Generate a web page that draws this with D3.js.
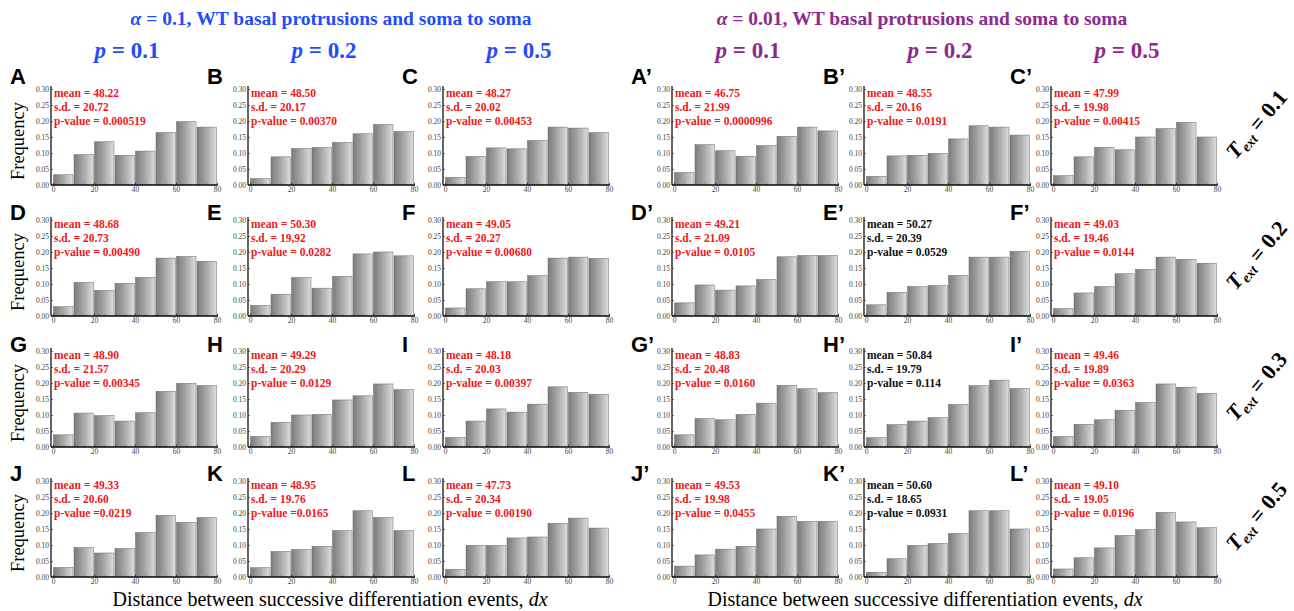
<!DOCTYPE html>
<html>
<head>
<meta charset="utf-8">
<script src="https://cdn.jsdelivr.net/npm/d3@7"></script>
<style>
  body { margin: 0; background: #fff; }
  svg { display: block; }
</style>
</head>
<body>
<svg id="chart"></svg>
<script>
// panels in row-major order (rows: T_ext, columns: p for alpha 0.1 then alpha 0.01)
const panelIds = [
  "A", "B", "C", "A’", "B’", "C’",
  "D", "E", "F", "D’", "E’", "F’",
  "G", "H", "I", "G’", "H’", "I’",
  "J", "K", "L", "J’", "K’", "L’"
];
const means = [
  "48.22", "48.50", "48.27", "46.75", "48.55", "47.99",
  "48.68", "50.30", "49.05", "49.21", "50.27", "49.03",
  "48.90", "49.29", "48.18", "48.83", "50.84", "49.46",
  "49.33", "48.95", "47.73", "49.53", "50.60", "49.10"
];
const sds = [
  "20.72", "20.17", "20.02", "21.99", "20.16", "19.98",
  "20.73", "19,92", "20.27", "21.09", "20.39", "19.46",
  "21.57", "20.29", "20.03", "20.48", "19.79", "19.89",
  "20.60", "19.76", "20.34", "19.98", "18.65", "19.05"
];
const pValues = [
  "= 0.000519", "= 0.00370", "= 0.00453", "= 0.0000996", "= 0.0191", "= 0.00415",
  "= 0.00490", "= 0.0282", "= 0.00680", "= 0.0105", "= 0.0529", "= 0.0144",
  "= 0.00345", "= 0.0129", "= 0.00397", "= 0.0160", "= 0.114", "= 0.0363",
  "=0.0219", "=0.0165", "= 0.00190", "= 0.0455", "= 0.0931", "= 0.0196"
];
const significant = [
  true, true, true, true, true, true,
  true, true, true, true, false, true,
  true, true, true, true, false, true,
  true, true, true, true, false, true
];
const binStarts = [0, 10, 20, 30, 40, 50, 60, 70];
const frequencies = [
  [0.032, 0.095, 0.135, 0.093, 0.106, 0.164, 0.198, 0.181],
  [0.020, 0.088, 0.114, 0.117, 0.133, 0.160, 0.189, 0.167],
  [0.024, 0.089, 0.116, 0.113, 0.139, 0.181, 0.178, 0.164],
  [0.039, 0.126, 0.107, 0.090, 0.123, 0.152, 0.181, 0.169],
  [0.027, 0.091, 0.093, 0.099, 0.144, 0.185, 0.181, 0.156],
  [0.029, 0.088, 0.118, 0.110, 0.150, 0.176, 0.196, 0.150],

  [0.029, 0.105, 0.080, 0.102, 0.121, 0.181, 0.186, 0.171],
  [0.033, 0.068, 0.120, 0.087, 0.124, 0.194, 0.200, 0.188],
  [0.025, 0.085, 0.107, 0.107, 0.126, 0.181, 0.184, 0.180],
  [0.041, 0.097, 0.081, 0.094, 0.114, 0.185, 0.189, 0.189],
  [0.035, 0.074, 0.092, 0.095, 0.127, 0.184, 0.184, 0.202],
  [0.023, 0.072, 0.092, 0.132, 0.146, 0.184, 0.177, 0.165],

  [0.038, 0.106, 0.098, 0.081, 0.107, 0.174, 0.199, 0.192],
  [0.033, 0.077, 0.100, 0.102, 0.147, 0.160, 0.197, 0.179],
  [0.030, 0.081, 0.119, 0.109, 0.134, 0.188, 0.171, 0.165],
  [0.038, 0.089, 0.085, 0.102, 0.137, 0.193, 0.182, 0.170],
  [0.029, 0.070, 0.081, 0.092, 0.133, 0.192, 0.209, 0.183],
  [0.033, 0.071, 0.085, 0.115, 0.139, 0.197, 0.187, 0.168],

  [0.030, 0.092, 0.075, 0.089, 0.139, 0.193, 0.171, 0.186],
  [0.029, 0.080, 0.086, 0.096, 0.145, 0.207, 0.186, 0.145],
  [0.024, 0.099, 0.099, 0.122, 0.125, 0.168, 0.184, 0.153],
  [0.034, 0.069, 0.087, 0.096, 0.150, 0.190, 0.174, 0.174],
  [0.015, 0.057, 0.099, 0.105, 0.136, 0.207, 0.207, 0.150],
  [0.025, 0.060, 0.091, 0.130, 0.148, 0.202, 0.172, 0.154]
];
const yTicks = [0, 0.05, 0.10, 0.15, 0.20, 0.25, 0.30];
const xTicks = [0, 20, 40, 60, 80];
const pLabels = ["0.1", "0.2", "0.5", "0.1", "0.2", "0.5"];
const tExtLabels = ["0.1", "0.2", "0.3", "0.5"];
const groupTitles = [
  { alpha: "0.1", color: "#1f4cff" },
  { alpha: "0.01", color: "#8c2a8c" }
];

const W = 1294, H = 611;
const svg = d3.select("#chart").attr("width", W).attr("height", H);

// layout
const colAxisX = [51, 248, 443, 672, 864, 1051];
const rowTop = [89, 220, 351, 481];
const plotW = 164, plotH = 96;
const serif = "'Liberation Serif', 'DejaVu Serif', serif";
const sans = "'Liberation Sans', Arial, sans-serif";

const defs = svg.append("defs");
const grad = defs.append("linearGradient").attr("id", "barGrad")
  .attr("x1", "0%").attr("x2", "100%").attr("y1", "0%").attr("y2", "0%");
[["0%", "#7c7c7c"], ["35%", "#9a9a9a"], ["70%", "#bdbdbd"], ["100%", "#dedede"]]
  .forEach(([o, c]) => grad.append("stop").attr("offset", o).attr("stop-color", c));

panelIds.forEach((id, i) => {
  const row = Math.floor(i / 6), col = i % 6;
  const ax = colAxisX[col], top = rowTop[row], bottom = top + plotH;

  const x = d3.scaleLinear().domain([0, 80]).range([ax + 2, ax + 2 + plotW]);
  const y = d3.scaleLinear().domain([0, 0.30]).range([bottom, top]);

  const g = svg.append("g");

  g.selectAll(".bar")
    .data(binStarts.map((b, k) => ({ b, v: frequencies[i][k] })))
    .enter()
    .append("rect")
    .attr("class", "bar")
    .attr("x", (d) => x(d.b) + 0.5)
    .attr("y", (d) => y(d.v))
    .attr("width", (d) => x(d.b + 10) - x(d.b) - 1)
    .attr("height", (d) => y(0) - y(d.v))
    .attr("fill", "url(#barGrad)")
    .attr("stroke", "#6a6a6a")
    .attr("stroke-width", 0.5);

  // y axis
  const yAxis = g.append("g")
    .attr("transform", `translate(${ax},0)`)
    .call(d3.axisLeft(y).tickValues(yTicks).tickFormat(d3.format(".2f"))
      .tickSizeInner(-2).tickSizeOuter(0).tickPadding(2));
  yAxis.select(".domain").attr("d", `M0,${bottom}V${top - 3}`);

  // x axis, minor then major
  g.append("g")
    .attr("transform", `translate(0,${bottom})`)
    .call(d3.axisBottom(x).tickValues(d3.range(0, 81, 5)).tickFormat("")
      .tickSizeInner(-1.5).tickSizeOuter(0))
    .select(".domain").remove();
  const xAxis = g.append("g")
    .attr("transform", `translate(0,${bottom})`)
    .call(d3.axisBottom(x).tickValues(xTicks).tickFormat(d3.format("d"))
      .tickSizeInner(-2.5).tickSizeOuter(0).tickPadding(2));
  xAxis.select(".domain").attr("d", `M${ax},0H${x(80) + 1}`);

  g.selectAll(".domain").attr("stroke", "#111").attr("stroke-width", 1.3);
  g.selectAll(".tick line").attr("stroke", "#222").attr("stroke-width", 0.6);
  g.selectAll(".tick text")
    .style("font-family", serif)
    .style("font-size", "7.5px")
    .attr("fill", "#444");

  // stats
  const statColor = significant[i] ? "#f01818" : "#111";
  [`mean = ${means[i]}`, `s.d. = ${sds[i]}`, `p-value ${pValues[i]}`].forEach((t, k) => {
    g.append("text")
      .attr("x", ax + 3)
      .attr("y", top + 8 + k * 14)
      .style("font-family", serif)
      .style("font-weight", "bold")
      .style("font-size", "11.5px")
      .attr("fill", statColor)
      .text(t);
  });

  // panel letter
  svg.append("text")
    .attr("x", ax - 41)
    .attr("y", [84, 220, 352, 481][row])
    .style("font-family", sans)
    .style("font-weight", "bold")
    .style("font-size", "22px")
    .attr("fill", "#000")
    .text(id);
});

// Frequency labels
rowTop.forEach((top) => {
  svg.append("text")
    .attr("transform", `translate(24,${top + plotH / 2 + 4}) rotate(-90)`)
    .attr("text-anchor", "middle")
    .style("font-family", serif)
    .style("font-size", "18.5px")
    .attr("fill", "#000")
    .text("Frequency");
});

// column headers
pLabels.forEach((p, c) => {
  const t = svg.append("text")
    .attr("x", colAxisX[c] + 76)
    .attr("y", 58)
    .attr("text-anchor", "middle")
    .style("font-family", serif)
    .style("font-weight", "bold")
    .style("font-size", "23px")
    .attr("fill", groupTitles[c < 3 ? 0 : 1].color);
  t.append("tspan").style("font-style", "italic").text("p");
  t.append("tspan").text(` = ${p}`);
});

// group titles
groupTitles.forEach((gt, k) => {
  const t = svg.append("text")
    .attr("x", k === 0 ? 331 : 922)
    .attr("y", 25)
    .attr("text-anchor", "middle")
    .style("font-family", serif)
    .style("font-weight", "bold")
    .style("font-size", "19.5px")
    .attr("fill", gt.color);
  t.append("tspan").style("font-style", "italic").text("α");
  t.append("tspan").text(` = ${gt.alpha}, WT basal protrusions and soma to soma`);
});

// x-axis titles
[330, 925].forEach((cx) => {
  const t = svg.append("text")
    .attr("x", cx)
    .attr("y", 606)
    .attr("text-anchor", "middle")
    .style("font-family", serif)
    .style("font-size", "20px")
    .attr("fill", "#000");
  t.append("tspan").text("Distance between successive differentiation events, ");
  t.append("tspan").style("font-style", "italic").text("dx");
});

// T_ext labels
tExtLabels.forEach((v, r) => {
  const t = svg.append("text")
    .attr("transform", `translate(1262,${rowTop[r] + 40}) rotate(-50)`)
    .attr("text-anchor", "middle")
    .style("font-family", serif)
    .style("font-weight", "bold")
    .style("font-size", "22px")
    .attr("fill", "#000");
  t.append("tspan").style("font-style", "italic").text("T");
  t.append("tspan").style("font-style", "italic").style("font-size", "14px")
    .attr("dy", 4).text("ext");
  t.append("tspan").attr("dy", -4).text(` = ${v}`);
});
</script>
</body>
</html>
